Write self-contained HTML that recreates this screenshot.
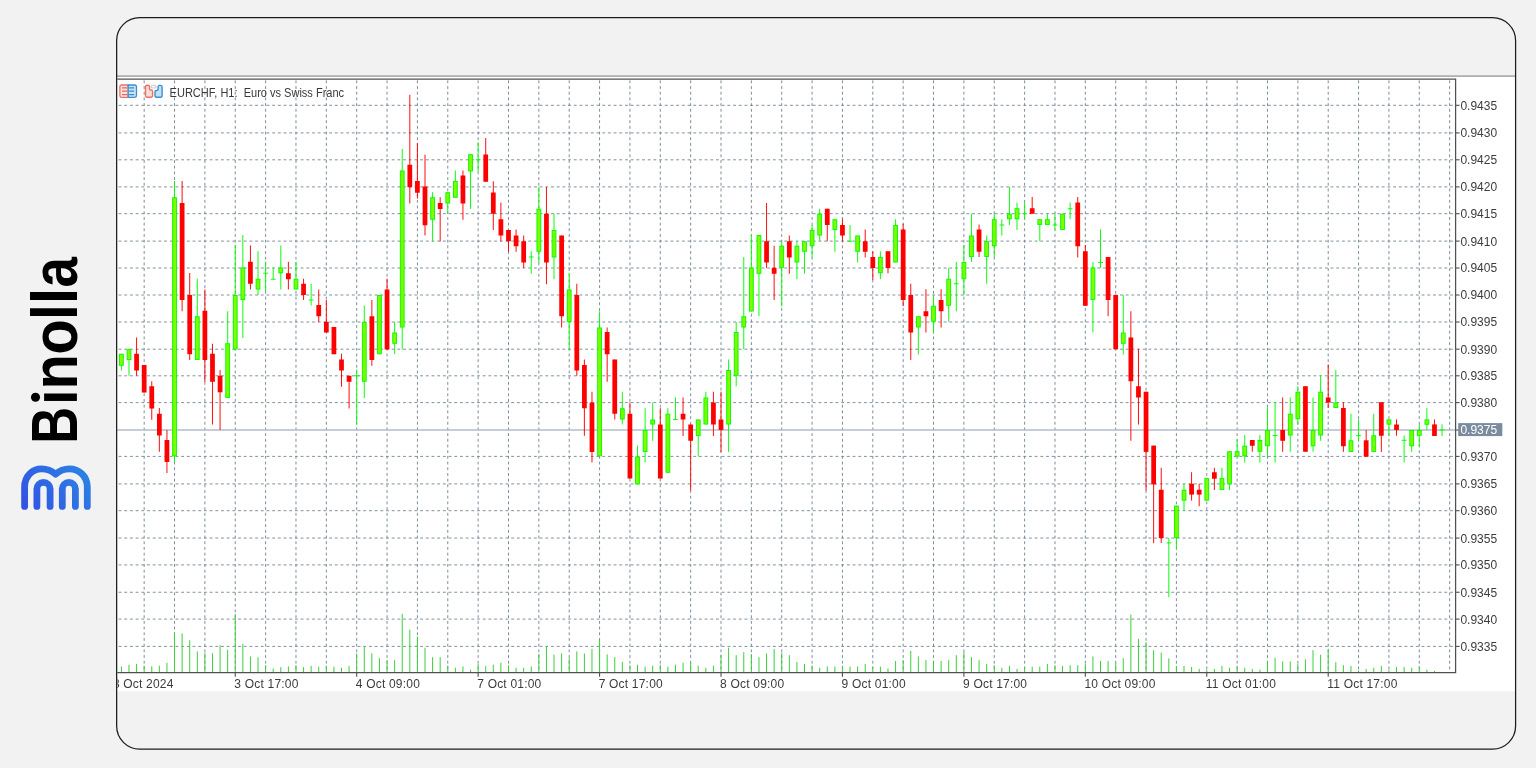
<!DOCTYPE html>
<html><head><meta charset="utf-8"><title>EURCHF H1</title>
<style>
html,body{margin:0;padding:0;background:#f2f2f2;}
body{width:1536px;height:768px;position:relative;overflow:hidden;font-family:"Liberation Sans",sans-serif;}
</style></head><body>
<svg width="1536" height="768" viewBox="0 0 1536 768" style="position:absolute;left:0;top:0;will-change:transform">
<rect x="117" y="76.8" width="1398.6" height="614.4" fill="#fff"/>
<rect x="117" y="75.3" width="1398.6" height="1.6" fill="#a9a9a9"/>
<g stroke="#7c8c9e" stroke-width="0.97" stroke-dasharray="2.85 2.84" fill="none">
<path d="M118.6 105.30H1455.6"/>
<path d="M118.6 132.90H1455.6"/>
<path d="M118.6 159.80H1455.6"/>
<path d="M118.6 186.90H1455.6"/>
<path d="M118.6 213.70H1455.6"/>
<path d="M118.6 241.10H1455.6"/>
<path d="M118.6 268.00H1455.6"/>
<path d="M118.6 295.00H1455.6"/>
<path d="M118.6 322.00H1455.6"/>
<path d="M118.6 349.20H1455.6"/>
<path d="M118.6 375.80H1455.6"/>
<path d="M118.6 402.60H1455.6"/>
<path d="M118.6 456.40H1455.6"/>
<path d="M118.6 483.90H1455.6"/>
<path d="M118.6 510.70H1455.6"/>
<path d="M118.6 538.05H1455.6"/>
<path d="M118.6 564.90H1455.6"/>
<path d="M118.6 592.25H1455.6"/>
<path d="M118.6 619.10H1455.6"/>
<path d="M118.6 646.40H1455.6"/>
</g>
<g stroke="#778899" stroke-width="0.97" stroke-dasharray="2.85 2.84" fill="none">
<path d="M144.17 80.4V672.7"/>
<path d="M174.53 80.4V672.7"/>
<path d="M204.89 80.4V672.7"/>
<path d="M235.25 80.4V672.7"/>
<path d="M265.61 80.4V672.7"/>
<path d="M295.97 80.4V672.7"/>
<path d="M326.33 80.4V672.7"/>
<path d="M356.69 80.4V672.7"/>
<path d="M387.05 80.4V672.7"/>
<path d="M417.41 80.4V672.7"/>
<path d="M447.77 80.4V672.7"/>
<path d="M478.13 80.4V672.7"/>
<path d="M508.49 80.4V672.7"/>
<path d="M538.85 80.4V672.7"/>
<path d="M569.21 80.4V672.7"/>
<path d="M599.57 80.4V672.7"/>
<path d="M629.93 80.4V672.7"/>
<path d="M660.29 80.4V672.7"/>
<path d="M690.65 80.4V672.7"/>
<path d="M721.01 80.4V672.7"/>
<path d="M751.37 80.4V672.7"/>
<path d="M781.73 80.4V672.7"/>
<path d="M812.09 80.4V672.7"/>
<path d="M842.45 80.4V672.7"/>
<path d="M872.81 80.4V672.7"/>
<path d="M903.17 80.4V672.7"/>
<path d="M933.53 80.4V672.7"/>
<path d="M963.89 80.4V672.7"/>
<path d="M994.25 80.4V672.7"/>
<path d="M1024.61 80.4V672.7"/>
<path d="M1054.97 80.4V672.7"/>
<path d="M1085.33 80.4V672.7"/>
<path d="M1115.69 80.4V672.7"/>
<path d="M1146.05 80.4V672.7"/>
<path d="M1176.41 80.4V672.7"/>
<path d="M1206.77 80.4V672.7"/>
<path d="M1237.13 80.4V672.7"/>
<path d="M1267.49 80.4V672.7"/>
<path d="M1297.85 80.4V672.7"/>
<path d="M1328.21 80.4V672.7"/>
<path d="M1358.57 80.4V672.7"/>
<path d="M1388.93 80.4V672.7"/>
<path d="M1419.29 80.4V672.7"/>
<path d="M1449.65 80.4V672.7"/>
</g>
<path d="M117.3 430H1455.6" stroke="#b4bcc8" stroke-width="1.5" fill="none"/>
<g stroke="#3ad03a" stroke-width="1.0" fill="none">
<path d="M121.40 672.40V666.45"/>
<path d="M128.99 672.40V664.70"/>
<path d="M136.58 672.40V663.95"/>
<path d="M144.17 672.40V665.70"/>
<path d="M151.76 672.40V666.45"/>
<path d="M159.35 672.40V665.70"/>
<path d="M166.94 672.40V662.70"/>
<path d="M174.53 672.40V632.20"/>
<path d="M182.12 672.40V633.45"/>
<path d="M189.71 672.40V640.20"/>
<path d="M197.30 672.40V651.45"/>
<path d="M204.89 672.40V652.70"/>
<path d="M212.48 672.40V653.20"/>
<path d="M220.07 672.40V645.20"/>
<path d="M227.66 672.40V649.70"/>
<path d="M235.25 672.40V613.95"/>
<path d="M242.84 672.40V643.95"/>
<path d="M250.43 672.40V656.45"/>
<path d="M258.02 672.40V657.20"/>
<path d="M265.61 672.40V665.20"/>
<path d="M273.20 672.40V668.45"/>
<path d="M280.79 672.40V667.20"/>
<path d="M288.38 672.40V666.45"/>
<path d="M295.97 672.40V665.20"/>
<path d="M303.56 672.40V667.20"/>
<path d="M311.15 672.40V665.95"/>
<path d="M318.74 672.40V666.70"/>
<path d="M326.33 672.40V665.70"/>
<path d="M333.92 672.40V666.70"/>
<path d="M341.51 672.40V667.70"/>
<path d="M349.10 672.40V665.95"/>
<path d="M356.69 672.40V653.45"/>
<path d="M364.28 672.40V646.45"/>
<path d="M371.87 672.40V653.45"/>
<path d="M379.46 672.40V658.20"/>
<path d="M387.05 672.40V660.20"/>
<path d="M394.64 672.40V660.20"/>
<path d="M402.23 672.40V613.95"/>
<path d="M409.82 672.40V629.70"/>
<path d="M417.41 672.40V636.45"/>
<path d="M425.00 672.40V647.70"/>
<path d="M432.59 672.40V657.20"/>
<path d="M440.18 672.40V657.20"/>
<path d="M447.77 672.40V665.70"/>
<path d="M455.36 672.40V667.70"/>
<path d="M462.95 672.40V666.45"/>
<path d="M470.54 672.40V669.70"/>
<path d="M478.13 672.40V663.95"/>
<path d="M485.72 672.40V665.95"/>
<path d="M493.31 672.40V664.70"/>
<path d="M500.90 672.40V662.70"/>
<path d="M508.49 672.40V665.20"/>
<path d="M516.08 672.40V667.70"/>
<path d="M523.67 672.40V667.70"/>
<path d="M531.26 672.40V666.45"/>
<path d="M538.85 672.40V653.95"/>
<path d="M546.44 672.40V645.95"/>
<path d="M554.03 672.40V654.70"/>
<path d="M561.62 672.40V653.45"/>
<path d="M569.21 672.40V658.20"/>
<path d="M576.80 672.40V651.45"/>
<path d="M584.39 672.40V653.45"/>
<path d="M591.98 672.40V648.95"/>
<path d="M599.57 672.40V640.20"/>
<path d="M607.16 672.40V654.45"/>
<path d="M614.75 672.40V657.20"/>
<path d="M622.34 672.40V661.95"/>
<path d="M629.93 672.40V665.20"/>
<path d="M637.52 672.40V664.70"/>
<path d="M645.11 672.40V666.70"/>
<path d="M652.70 672.40V665.70"/>
<path d="M660.29 672.40V664.70"/>
<path d="M667.88 672.40V666.70"/>
<path d="M675.47 672.40V664.70"/>
<path d="M683.06 672.40V662.70"/>
<path d="M690.65 672.40V662.70"/>
<path d="M698.24 672.40V665.70"/>
<path d="M705.83 672.40V667.70"/>
<path d="M713.42 672.40V665.70"/>
<path d="M721.01 672.40V654.70"/>
<path d="M728.60 672.40V647.70"/>
<path d="M736.19 672.40V655.20"/>
<path d="M743.78 672.40V652.20"/>
<path d="M751.37 672.40V653.95"/>
<path d="M758.96 672.40V657.20"/>
<path d="M766.55 672.40V653.45"/>
<path d="M774.14 672.40V648.95"/>
<path d="M781.73 672.40V652.70"/>
<path d="M789.32 672.40V655.20"/>
<path d="M796.91 672.40V661.95"/>
<path d="M804.50 672.40V663.95"/>
<path d="M812.09 672.40V665.70"/>
<path d="M819.68 672.40V667.70"/>
<path d="M827.27 672.40V666.45"/>
<path d="M834.86 672.40V666.45"/>
<path d="M842.45 672.40V665.70"/>
<path d="M850.04 672.40V666.70"/>
<path d="M857.63 672.40V666.45"/>
<path d="M865.22 672.40V663.95"/>
<path d="M872.81 672.40V666.70"/>
<path d="M880.40 672.40V666.70"/>
<path d="M887.99 672.40V668.45"/>
<path d="M895.58 672.40V660.95"/>
<path d="M903.17 672.40V660.20"/>
<path d="M910.76 672.40V650.95"/>
<path d="M918.35 672.40V656.45"/>
<path d="M925.94 672.40V660.20"/>
<path d="M933.53 672.40V660.95"/>
<path d="M941.12 672.40V660.95"/>
<path d="M948.71 672.40V660.20"/>
<path d="M956.30 672.40V655.20"/>
<path d="M963.89 672.40V652.20"/>
<path d="M971.48 672.40V657.20"/>
<path d="M979.07 672.40V660.20"/>
<path d="M986.66 672.40V663.95"/>
<path d="M994.25 672.40V665.20"/>
<path d="M1001.84 672.40V667.70"/>
<path d="M1009.43 672.40V665.95"/>
<path d="M1017.02 672.40V668.95"/>
<path d="M1024.61 672.40V666.70"/>
<path d="M1032.20 672.40V666.70"/>
<path d="M1039.79 672.40V666.70"/>
<path d="M1047.38 672.40V663.95"/>
<path d="M1054.97 672.40V665.20"/>
<path d="M1062.56 672.40V665.95"/>
<path d="M1070.15 672.40V665.20"/>
<path d="M1077.74 672.40V665.20"/>
<path d="M1085.33 672.40V663.95"/>
<path d="M1092.92 672.40V656.45"/>
<path d="M1100.51 672.40V660.95"/>
<path d="M1108.10 672.40V660.95"/>
<path d="M1115.69 672.40V663.20"/>
<path d="M1123.28 672.40V658.20"/>
<path d="M1130.87 672.40V614.70"/>
<path d="M1138.46 672.40V638.95"/>
<path d="M1146.05 672.40V642.20"/>
<path d="M1153.64 672.40V650.20"/>
<path d="M1161.23 672.40V652.70"/>
<path d="M1168.82 672.40V658.45"/>
<path d="M1176.41 672.40V665.95"/>
<path d="M1184.00 672.40V665.95"/>
<path d="M1191.59 672.40V666.95"/>
<path d="M1199.18 672.40V668.95"/>
<path d="M1206.77 672.40V669.70"/>
<path d="M1214.36 672.40V668.95"/>
<path d="M1221.95 672.40V665.95"/>
<path d="M1229.54 672.40V667.70"/>
<path d="M1237.13 672.40V665.95"/>
<path d="M1244.72 672.40V667.70"/>
<path d="M1252.31 672.40V668.95"/>
<path d="M1259.90 672.40V669.70"/>
<path d="M1267.49 672.40V660.95"/>
<path d="M1275.08 672.40V657.70"/>
<path d="M1282.67 672.40V661.45"/>
<path d="M1290.26 672.40V661.45"/>
<path d="M1297.85 672.40V663.95"/>
<path d="M1305.44 672.40V659.45"/>
<path d="M1313.03 672.40V650.20"/>
<path d="M1320.62 672.40V654.70"/>
<path d="M1328.21 672.40V648.95"/>
<path d="M1335.80 672.40V662.20"/>
<path d="M1343.39 672.40V665.20"/>
<path d="M1350.98 672.40V665.95"/>
<path d="M1358.57 672.40V670.20"/>
<path d="M1366.16 672.40V668.95"/>
<path d="M1373.75 672.40V667.70"/>
<path d="M1381.34 672.40V665.95"/>
<path d="M1388.93 672.40V669.70"/>
<path d="M1396.52 672.40V666.95"/>
<path d="M1404.11 672.40V666.95"/>
<path d="M1411.70 672.40V667.70"/>
<path d="M1419.29 672.40V666.45"/>
<path d="M1426.88 672.40V669.70"/>
<path d="M1434.47 672.40V670.95"/>
<path d="M1442.06 672.40V671.95"/>
</g>
<path d="M121.40 353.75V370.50M128.99 348.75V375.75M174.53 181.00V462.00M197.30 278.75V360.00M227.66 311.25V398.00M235.25 245.00V349.50M242.84 235.00V338.00M258.02 251.25V295.00M265.61 261.75V291.25M263.24 273.25H267.98M273.20 267.50V279.25M270.83 279.25H275.57M280.79 245.50V289.50M295.97 261.75V289.50M311.15 283.75V305.50M308.78 300.00H313.52M356.69 369.50V424.50M354.32 375.75H359.06M364.28 305.50V398.00M379.46 295.00V354.25M394.64 322.00V354.25M402.23 149.00V349.50M432.59 192.25V241.50M447.77 192.25V213.50M455.36 170.50V197.75M470.54 154.25V209.00M478.13 142.25V171.50M475.76 159.75H480.50M531.26 251.25V273.75M528.89 257.00H533.63M538.85 187.00V263.00M554.03 213.75V279.25M569.21 273.00V349.25M599.57 311.25V456.25M622.34 391.75V424.50M637.52 445.60V484.40M645.11 408.25V462.50M652.70 402.50V440.75M667.88 408.25V472.75M675.47 397.50V419.50M673.10 419.50H677.84M698.24 419.50V456.50M705.83 391.75V424.50M728.60 359.50V452.00M736.19 322.00V386.25M743.78 257.00V349.25M751.37 235.00V311.50M758.96 235.00V316.25M781.73 241.25V306.50M796.91 241.25V279.25M804.50 241.25V273.75M812.09 225.00V257.50M819.68 208.75V241.25M834.86 219.25V251.75M850.04 225.00V241.25M847.67 241.25H852.41M857.63 235.50V262.50M880.40 251.25V279.25M895.58 219.25V262.50M918.35 316.25V354.50M933.53 295.00V332.50M948.71 268.00V321.75M956.30 262.00V311.25M953.93 283.75H958.67M963.89 245.00V295.00M971.48 213.75V262.00M986.66 235.50V283.75M994.25 213.75V257.00M1001.84 219.25V235.50M999.47 225.00H1004.21M1009.43 187.00V225.00M1017.02 202.50V230.00M1024.61 202.50V219.25M1022.24 213.75H1026.98M1039.79 219.25V241.25M1047.38 213.75V225.00M1054.97 213.75V230.00M1052.60 225.00H1057.34M1062.56 213.75V230.00M1070.15 202.50V219.25M1067.78 208.75H1072.52M1092.92 262.00V332.50M1100.51 229.50V268.00M1098.14 262.50H1102.88M1123.28 295.00V354.50M1168.82 538.10V597.25M1166.45 542.90H1171.19M1176.41 505.60V548.75M1184.00 483.75V510.75M1206.77 478.10V500.60M1221.95 467.75V490.00M1229.54 451.25V490.00M1237.13 439.50V456.60M1244.72 435.00V462.50M1259.90 435.00V462.50M1267.49 407.50V456.75M1275.08 402.00V462.50M1272.71 435.50H1277.45M1290.26 397.50V451.75M1297.85 386.25V424.50M1313.03 397.50V451.75M1320.62 375.50V440.75M1335.80 370.00V408.00M1350.98 413.75V451.90M1358.57 419.40V440.70M1356.20 435.60H1360.94M1373.75 413.75V451.90M1388.93 419.40V435.75M1404.11 435.60V462.50M1401.74 440.30H1406.48M1411.70 430.00V451.90M1419.29 424.40V446.25M1426.88 408.10V430.00M1442.06 424.40V436.00M1439.69 430.00H1444.43" stroke="#00ff00" stroke-width="0.95" fill="none"/>
<path d="M136.58 337.50V375.75M144.17 365.00V392.50M151.76 381.25V419.75M159.35 408.00V451.75M166.94 430.00V473.00M182.12 181.00V311.25M189.71 273.00V360.00M204.89 289.50V382.00M212.48 343.75V424.50M220.07 370.00V430.00M250.43 245.50V289.50M288.38 261.75V289.50M303.56 278.75V300.00M318.74 289.50V322.00M326.33 300.00V332.50M333.92 327.00V354.25M341.51 353.75V386.75M349.10 375.75V408.50M371.87 300.00V365.75M387.05 278.75V349.50M409.82 94.75V203.50M417.41 143.00V198.50M425.00 154.75V235.50M440.18 197.25V241.50M462.95 170.50V219.75M485.72 138.00V181.75M493.31 181.25V230.00M500.90 202.50V241.25M508.49 230.00V251.75M516.08 229.50V251.75M523.67 235.50V268.00M546.44 187.00V284.25M561.62 235.50V327.50M576.80 283.75V375.75M584.39 359.50V435.75M591.98 391.75V462.50M607.16 327.50V381.75M614.75 359.50V419.50M629.93 402.50V478.50M660.29 408.25V478.50M683.06 397.50V436.00M690.65 424.50V490.60M713.42 391.75V436.00M721.01 391.75V452.00M766.55 203.00V268.00M774.14 245.75V300.00M789.32 235.50V273.75M827.27 208.75V241.25M842.45 219.25V241.25M865.22 229.50V257.50M872.81 251.25V280.00M887.99 251.25V273.25M903.17 223.75V306.25M910.76 283.75V360.00M925.94 289.25V332.50M941.12 289.25V327.50M979.07 224.50V257.00M1032.20 197.00V213.75M1077.74 197.00V257.50M1085.33 245.00V305.75M1108.10 257.00V316.25M1115.69 295.00V349.25M1130.87 311.25V440.75M1138.46 348.75V424.50M1146.05 391.75V490.50M1153.64 445.60V543.10M1161.23 467.75V543.10M1191.59 472.25V500.60M1199.18 483.75V506.25M1214.36 467.75V490.00M1252.31 440.00V451.75M1282.67 397.50V451.75M1305.44 386.25V451.75M1328.21 364.50V408.00M1343.39 402.25V451.90M1366.16 430.00V456.75M1381.34 402.25V451.90M1396.52 419.40V435.75M1434.47 419.40V436.00" stroke="#ff0000" stroke-width="0.95" fill="none"/>
<g fill="#7fff00" stroke="#00ff00" stroke-width="0.95"><rect x="119.50" y="354.23" width="3.79" height="11.05"/><rect x="127.09" y="349.73" width="3.79" height="9.80"/><rect x="172.63" y="197.72" width="3.79" height="258.05"/><rect x="195.41" y="316.73" width="3.79" height="42.80"/><rect x="225.76" y="343.73" width="3.79" height="53.80"/><rect x="233.35" y="295.48" width="3.79" height="53.55"/><rect x="240.94" y="267.98" width="3.79" height="31.55"/><rect x="256.12" y="279.23" width="3.79" height="9.80"/><rect x="278.89" y="267.98" width="3.79" height="4.80"/><rect x="294.08" y="279.23" width="3.79" height="9.80"/><rect x="362.38" y="322.48" width="3.79" height="58.80"/><rect x="377.57" y="295.48" width="3.79" height="58.30"/><rect x="392.75" y="332.98" width="3.79" height="10.30"/><rect x="400.34" y="170.97" width="3.79" height="156.05"/><rect x="430.70" y="197.72" width="3.79" height="21.55"/><rect x="445.88" y="192.72" width="3.79" height="10.30"/><rect x="453.47" y="181.47" width="3.79" height="15.80"/><rect x="468.64" y="154.72" width="3.79" height="16.30"/><rect x="536.96" y="209.22" width="3.79" height="42.05"/><rect x="552.13" y="230.47" width="3.79" height="26.55"/><rect x="567.32" y="289.98" width="3.79" height="31.55"/><rect x="597.68" y="327.98" width="3.79" height="127.80"/><rect x="620.45" y="408.73" width="3.79" height="10.30"/><rect x="635.62" y="456.98" width="3.79" height="26.95"/><rect x="643.22" y="430.48" width="3.79" height="21.05"/><rect x="650.80" y="419.98" width="3.79" height="4.05"/><rect x="665.99" y="414.23" width="3.79" height="58.05"/><rect x="696.35" y="419.98" width="3.79" height="15.55"/><rect x="703.93" y="397.98" width="3.79" height="26.05"/><rect x="726.71" y="370.48" width="3.79" height="53.55"/><rect x="734.29" y="332.48" width="3.79" height="42.80"/><rect x="741.88" y="316.73" width="3.79" height="10.30"/><rect x="749.48" y="267.98" width="3.79" height="43.05"/><rect x="757.06" y="235.47" width="3.79" height="37.80"/><rect x="779.84" y="246.22" width="3.79" height="21.05"/><rect x="795.01" y="246.22" width="3.79" height="15.80"/><rect x="802.61" y="241.72" width="3.79" height="9.55"/><rect x="810.19" y="230.47" width="3.79" height="15.30"/><rect x="817.78" y="214.22" width="3.79" height="20.80"/><rect x="832.97" y="219.72" width="3.79" height="9.80"/><rect x="855.74" y="235.97" width="3.79" height="15.30"/><rect x="878.50" y="257.48" width="3.79" height="15.30"/><rect x="893.68" y="225.47" width="3.79" height="36.55"/><rect x="916.45" y="316.73" width="3.79" height="10.30"/><rect x="931.63" y="306.23" width="3.79" height="15.05"/><rect x="946.81" y="279.23" width="3.79" height="26.05"/><rect x="962.00" y="262.48" width="3.79" height="16.30"/><rect x="969.58" y="235.97" width="3.79" height="20.55"/><rect x="984.76" y="241.72" width="3.79" height="14.80"/><rect x="992.36" y="219.72" width="3.79" height="26.05"/><rect x="1007.53" y="214.22" width="3.79" height="4.55"/><rect x="1015.12" y="208.72" width="3.79" height="10.05"/><rect x="1037.89" y="219.72" width="3.79" height="4.80"/><rect x="1045.49" y="219.72" width="3.79" height="4.80"/><rect x="1060.66" y="214.22" width="3.79" height="15.30"/><rect x="1091.03" y="267.98" width="3.79" height="31.55"/><rect x="1121.38" y="332.98" width="3.79" height="10.30"/><rect x="1174.52" y="506.08" width="3.79" height="31.55"/><rect x="1182.11" y="490.23" width="3.79" height="9.90"/><rect x="1204.88" y="478.58" width="3.79" height="21.55"/><rect x="1220.06" y="478.58" width="3.79" height="10.95"/><rect x="1227.64" y="451.73" width="3.79" height="32.20"/><rect x="1235.24" y="451.73" width="3.79" height="4.40"/><rect x="1242.83" y="446.23" width="3.79" height="9.55"/><rect x="1258.01" y="440.48" width="3.79" height="10.80"/><rect x="1265.60" y="430.48" width="3.79" height="15.30"/><rect x="1288.37" y="414.23" width="3.79" height="20.80"/><rect x="1295.96" y="392.23" width="3.79" height="26.55"/><rect x="1311.13" y="430.48" width="3.79" height="15.30"/><rect x="1318.73" y="392.23" width="3.79" height="42.80"/><rect x="1333.91" y="402.98" width="3.79" height="4.55"/><rect x="1349.09" y="440.78" width="3.79" height="10.65"/><rect x="1371.86" y="435.78" width="3.79" height="15.65"/><rect x="1387.04" y="419.88" width="3.79" height="4.25"/><rect x="1409.81" y="430.48" width="3.79" height="15.30"/><rect x="1417.39" y="430.48" width="3.79" height="4.80"/><rect x="1424.99" y="419.88" width="3.79" height="4.40"/></g>
<g fill="#ff0000"><rect x="134.21" y="353.75" width="4.74" height="16.75"/><rect x="141.80" y="365.00" width="4.74" height="27.50"/><rect x="149.39" y="386.25" width="4.74" height="22.25"/><rect x="156.98" y="413.75" width="4.74" height="21.75"/><rect x="164.57" y="440.00" width="4.74" height="22.00"/><rect x="179.75" y="203.00" width="4.74" height="97.00"/><rect x="187.34" y="295.00" width="4.74" height="59.25"/><rect x="202.52" y="310.75" width="4.74" height="49.25"/><rect x="210.11" y="353.75" width="4.74" height="28.00"/><rect x="217.70" y="375.75" width="4.74" height="16.50"/><rect x="248.06" y="261.75" width="4.74" height="22.00"/><rect x="286.01" y="273.25" width="4.74" height="6.00"/><rect x="301.19" y="283.75" width="4.74" height="11.25"/><rect x="316.37" y="305.00" width="4.74" height="11.25"/><rect x="323.96" y="321.75" width="4.74" height="10.75"/><rect x="331.55" y="327.00" width="4.74" height="27.25"/><rect x="339.14" y="359.50" width="4.74" height="11.00"/><rect x="346.73" y="375.75" width="4.74" height="6.00"/><rect x="369.50" y="316.25" width="4.74" height="43.75"/><rect x="384.68" y="289.50" width="4.74" height="60.00"/><rect x="407.45" y="164.75" width="4.74" height="22.50"/><rect x="415.04" y="181.00" width="4.74" height="11.75"/><rect x="422.63" y="186.50" width="4.74" height="38.75"/><rect x="437.81" y="203.00" width="4.74" height="6.00"/><rect x="460.58" y="175.50" width="4.74" height="28.00"/><rect x="483.35" y="154.50" width="4.74" height="27.25"/><rect x="490.94" y="192.50" width="4.74" height="21.25"/><rect x="498.53" y="219.25" width="4.74" height="16.25"/><rect x="506.12" y="230.00" width="4.74" height="11.25"/><rect x="513.71" y="235.50" width="4.74" height="10.75"/><rect x="521.30" y="241.25" width="4.74" height="21.25"/><rect x="544.07" y="213.75" width="4.74" height="48.75"/><rect x="559.25" y="235.50" width="4.74" height="80.75"/><rect x="574.43" y="295.00" width="4.74" height="75.50"/><rect x="582.02" y="365.00" width="4.74" height="43.25"/><rect x="589.61" y="402.50" width="4.74" height="49.50"/><rect x="604.79" y="332.00" width="4.74" height="22.25"/><rect x="612.38" y="359.50" width="4.74" height="54.25"/><rect x="627.56" y="413.75" width="4.74" height="64.75"/><rect x="657.92" y="424.50" width="4.74" height="54.00"/><rect x="680.69" y="413.75" width="4.74" height="5.75"/><rect x="688.28" y="424.50" width="4.74" height="16.25"/><rect x="711.05" y="402.50" width="4.74" height="22.00"/><rect x="718.64" y="419.50" width="4.74" height="10.50"/><rect x="764.18" y="241.25" width="4.74" height="21.25"/><rect x="771.77" y="267.75" width="4.74" height="6.00"/><rect x="786.95" y="241.25" width="4.74" height="16.25"/><rect x="824.90" y="208.75" width="4.74" height="16.25"/><rect x="840.08" y="225.00" width="4.74" height="10.50"/><rect x="862.85" y="241.25" width="4.74" height="10.50"/><rect x="870.44" y="257.00" width="4.74" height="11.00"/><rect x="885.62" y="251.25" width="4.74" height="16.75"/><rect x="900.80" y="229.50" width="4.74" height="70.50"/><rect x="908.39" y="295.00" width="4.74" height="37.50"/><rect x="923.57" y="311.25" width="4.74" height="5.00"/><rect x="938.75" y="300.00" width="4.74" height="11.25"/><rect x="976.70" y="229.50" width="4.74" height="22.25"/><rect x="1029.83" y="208.25" width="4.74" height="5.50"/><rect x="1075.37" y="202.50" width="4.74" height="43.75"/><rect x="1082.96" y="251.25" width="4.74" height="54.50"/><rect x="1105.73" y="257.00" width="4.74" height="43.00"/><rect x="1113.32" y="295.00" width="4.74" height="54.25"/><rect x="1128.50" y="337.50" width="4.74" height="43.75"/><rect x="1136.09" y="386.25" width="4.74" height="11.25"/><rect x="1143.68" y="391.75" width="4.74" height="60.15"/><rect x="1151.27" y="445.60" width="4.74" height="38.80"/><rect x="1158.86" y="489.75" width="4.74" height="48.35"/><rect x="1189.22" y="483.75" width="4.74" height="10.85"/><rect x="1196.81" y="489.75" width="4.74" height="4.85"/><rect x="1211.99" y="472.25" width="4.74" height="6.50"/><rect x="1249.94" y="440.00" width="4.74" height="5.75"/><rect x="1280.30" y="430.00" width="4.74" height="10.75"/><rect x="1303.07" y="386.25" width="4.74" height="65.50"/><rect x="1325.84" y="397.50" width="4.74" height="5.00"/><rect x="1341.02" y="408.00" width="4.74" height="38.25"/><rect x="1363.79" y="440.30" width="4.74" height="16.45"/><rect x="1378.97" y="402.25" width="4.74" height="33.50"/><rect x="1394.15" y="424.50" width="4.74" height="5.50"/><rect x="1432.10" y="424.40" width="4.74" height="11.60"/></g>
<path d="M117.3 79.2H1455.6V672.7H117.3" stroke="#505050" stroke-width="1.25" fill="none"/>
<g stroke="#505050" stroke-width="1.1" fill="none">
<path d="M1455.6 105.30H1459.6"/>
<path d="M1455.6 132.90H1459.6"/>
<path d="M1455.6 159.80H1459.6"/>
<path d="M1455.6 186.90H1459.6"/>
<path d="M1455.6 213.70H1459.6"/>
<path d="M1455.6 241.10H1459.6"/>
<path d="M1455.6 268.00H1459.6"/>
<path d="M1455.6 295.00H1459.6"/>
<path d="M1455.6 322.00H1459.6"/>
<path d="M1455.6 349.20H1459.6"/>
<path d="M1455.6 375.80H1459.6"/>
<path d="M1455.6 402.60H1459.6"/>
<path d="M1455.6 430.00H1459.6"/>
<path d="M1455.6 456.40H1459.6"/>
<path d="M1455.6 483.90H1459.6"/>
<path d="M1455.6 510.70H1459.6"/>
<path d="M1455.6 538.05H1459.6"/>
<path d="M1455.6 564.90H1459.6"/>
<path d="M1455.6 592.25H1459.6"/>
<path d="M1455.6 619.10H1459.6"/>
<path d="M1455.6 646.40H1459.6"/>
</g>
<g font-family="Liberation Sans, sans-serif" font-size="12" fill="#3c3c3c">
<text x="1460.4" y="109.75">0.9435</text>
<text x="1460.4" y="137.35">0.9430</text>
<text x="1460.4" y="164.25">0.9425</text>
<text x="1460.4" y="191.35">0.9420</text>
<text x="1460.4" y="218.15">0.9415</text>
<text x="1460.4" y="245.55">0.9410</text>
<text x="1460.4" y="272.45">0.9405</text>
<text x="1460.4" y="299.45">0.9400</text>
<text x="1460.4" y="326.45">0.9395</text>
<text x="1460.4" y="353.65">0.9390</text>
<text x="1460.4" y="380.25">0.9385</text>
<text x="1460.4" y="407.05">0.9380</text>
<text x="1460.4" y="460.85">0.9370</text>
<text x="1460.4" y="488.35">0.9365</text>
<text x="1460.4" y="515.15">0.9360</text>
<text x="1460.4" y="542.50">0.9355</text>
<text x="1460.4" y="569.35">0.9350</text>
<text x="1460.4" y="596.70">0.9345</text>
<text x="1460.4" y="623.55">0.9340</text>
<text x="1460.4" y="650.85">0.9335</text>
</g>
<rect x="1458.2" y="423.1" width="44.1" height="13" fill="#7a8ba0"/>
<text x="1460.4" y="434.4" font-family="Liberation Sans, sans-serif" font-size="12" fill="#fff">0.9375</text>
<g font-family="Liberation Sans, sans-serif" font-size="12" fill="#3c3c3c">
<clipPath id="cl"><rect x="117.4" y="674" width="1400" height="20"/></clipPath>
<text x="112.91" y="687.8" letter-spacing="0.2" clip-path="url(#cl)">3 Oct 2024</text>
<path d="M235.25 672.7V676.7" stroke="#505050" stroke-width="1.1"/>
<text x="234.35" y="687.8" letter-spacing="0.2" clip-path="url(#cl)">3 Oct 17:00</text>
<path d="M356.69 672.7V676.7" stroke="#505050" stroke-width="1.1"/>
<text x="355.79" y="687.8" letter-spacing="0.2" clip-path="url(#cl)">4 Oct 09:00</text>
<path d="M478.13 672.7V676.7" stroke="#505050" stroke-width="1.1"/>
<text x="477.23" y="687.8" letter-spacing="0.2" clip-path="url(#cl)">7 Oct 01:00</text>
<path d="M599.57 672.7V676.7" stroke="#505050" stroke-width="1.1"/>
<text x="598.67" y="687.8" letter-spacing="0.2" clip-path="url(#cl)">7 Oct 17:00</text>
<path d="M721.01 672.7V676.7" stroke="#505050" stroke-width="1.1"/>
<text x="720.11" y="687.8" letter-spacing="0.2" clip-path="url(#cl)">8 Oct 09:00</text>
<path d="M842.45 672.7V676.7" stroke="#505050" stroke-width="1.1"/>
<text x="841.55" y="687.8" letter-spacing="0.2" clip-path="url(#cl)">9 Oct 01:00</text>
<path d="M963.89 672.7V676.7" stroke="#505050" stroke-width="1.1"/>
<text x="962.99" y="687.8" letter-spacing="0.2" clip-path="url(#cl)">9 Oct 17:00</text>
<path d="M1085.33 672.7V676.7" stroke="#505050" stroke-width="1.1"/>
<text x="1084.43" y="687.8" letter-spacing="0.2" clip-path="url(#cl)">10 Oct 09:00</text>
<path d="M1206.77 672.7V676.7" stroke="#505050" stroke-width="1.1"/>
<text x="1205.87" y="687.8" letter-spacing="0.2" clip-path="url(#cl)">11 Oct 01:00</text>
<path d="M1328.21 672.7V676.7" stroke="#505050" stroke-width="1.1"/>
<text x="1327.31" y="687.8" letter-spacing="0.2" clip-path="url(#cl)">11 Oct 17:00</text>
</g>
<text x="169.6" y="96.7" font-family="Liberation Sans, sans-serif" font-size="12" fill="#3a3a3a" textLength="174.5" lengthAdjust="spacingAndGlyphs" style="white-space:pre">EURCHF, H1:  Euro vs Swiss Franc</text>
<g stroke-width="1.3"><path d="M128.2 85H121.6a1.7 1.7 0 0 0-1.7 1.7v8.9a1.7 1.7 0 0 0 1.7 1.7H128.2z" fill="#ffe3dc" stroke="#e8736c"/><path d="M128.2 85H134.8a1.7 1.7 0 0 1 1.7 1.7v8.9a1.7 1.7 0 0 1-1.7 1.7H128.2z" fill="#c4e4fb" stroke="#3f8fcc"/><path d="M122 87.8h5.2M122 91.2h5.2M122 94.6h5.2" stroke="#e8665e" stroke-width="1.3" fill="none"/><path d="M129.2 87.8h4.9M129.2 91.2h4.9M129.2 94.6h4.9" stroke="#3a88c6" stroke-width="1.3" fill="none"/></g>
<g stroke-width="1.4" stroke-linejoin="round"><ellipse cx="153.6" cy="86.7" rx="2.5" ry="1.3" fill="none" stroke="#cfcfcf" stroke-width="1.1"/><path d="M145.5 95.8V86.7a1.5 1.5 0 0 1 1.5-1.5h1a1.5 1.5 0 0 1 1.5 1.5v1.7a1.6 1.6 0 0 0 1.6 1.6h0.1a1.4 1.4 0 0 1 1.4 1.4v4.4a1.5 1.5 0 0 1-1.5 1.5h-4.1a1.5 1.5 0 0 1-1.5-1.5z" fill="#ffddd5" stroke="#e8736c"/><path d="M162.1 95.8V86.9a1.5 1.5 0 0 0-1.5-1.5h-1a1.5 1.5 0 0 0-1.5 1.5v2a1.6 1.6 0 0 1-1.6 1.6h-0.1a1.4 1.4 0 0 0-1.4 1.4v3.9a1.5 1.5 0 0 0 1.5 1.5h4.1a1.5 1.5 0 0 0 1.5-1.5z" fill="#bfe3fd" stroke="#3f8fcc"/></g>
<rect x="116.65" y="17.6" width="1398.95" height="731.5" rx="23" ry="23" fill="none" stroke="#1c1c1c" stroke-width="1.25"/>
<defs><linearGradient id="lg" gradientUnits="userSpaceOnUse" x1="24" y1="510" x2="86" y2="462"><stop offset="0" stop-color="#3350e4"/><stop offset="1" stop-color="#2b86e4"/></linearGradient></defs>
<g fill="none" stroke="url(#lg)" stroke-width="6.8" stroke-linecap="round" stroke-linejoin="round"><path d="M24.6 506.4V487C24.6 476 32.5 468.9 41.6 468.9C47 468.9 52 471 55.6 474.1C59.2 471 64 468.9 69.4 468.9C78.6 468.9 87.3 476 87.3 487V506.4"/><path d="M36.9 506.4V489a6.6 6.6 0 0 1 13.2 0V506.4"/><path d="M62.3 506.4V489a6.55 6.55 0 0 1 13.1 0V506.4"/></g>
<text transform="translate(76.9 440.00) rotate(-90) scale(0.7993 1)" x="-4.68" y="0" font-family="Liberation Sans, sans-serif" font-weight="bold" font-size="64.0" fill="#000">B</text>
<rect x="44.1" y="393.50" width="32.8" height="7.45" fill="#000"/><circle cx="35.5" cy="397.2" r="4.55" fill="#000"/>
<text transform="translate(76.9 385.70) rotate(-90) scale(0.9060 1)" x="-4.19" y="0" font-family="Liberation Sans, sans-serif" font-weight="bold" font-size="64.0" fill="#000">n</text>
<text transform="translate(76.9 352.50) rotate(-90) scale(0.9113 1)" x="-2.59" y="0" font-family="Liberation Sans, sans-serif" font-weight="bold" font-size="64.0" fill="#000">o</text>
<text transform="translate(76.9 316.00) rotate(-90) scale(0.8938 1)" x="-4.38" y="0" font-family="Liberation Sans, sans-serif" font-weight="bold" font-size="64.0" fill="#000">l</text>
<text transform="translate(76.9 300.10) rotate(-90) scale(0.9048 1)" x="-4.38" y="0" font-family="Liberation Sans, sans-serif" font-weight="bold" font-size="64.0" fill="#000">l</text>
<text transform="translate(76.9 285.80) rotate(-90) scale(0.8522 1)" x="-1.88" y="0" font-family="Liberation Sans, sans-serif" font-weight="bold" font-size="64.0" fill="#000">a</text>
</svg>
</body></html>
